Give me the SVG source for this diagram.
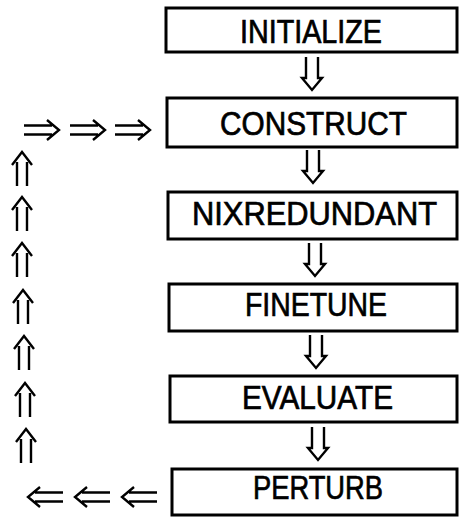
<svg xmlns="http://www.w3.org/2000/svg" width="459" height="518" viewBox="0 0 459 518">
<style>
.box{fill:#fff;stroke:#000;stroke-width:3}
.lbl{font-family:"Liberation Sans",Arial,sans-serif;font-size:33px;fill:#000;stroke:#000;stroke-width:0.7}
.arr{fill:none;stroke:#000;stroke-width:2.4;stroke-linejoin:miter;stroke-linecap:butt}
</style>
<defs>
<path id="dn" class="arr" d="M-6,0 V21 L-10,21 L0,33 L10,21 L6,21 V0"/>
<path id="up" class="arr" d="M-5,34 V10 M5,34 V10 M-10,13 L0,0 L10,13"/>
<path id="rt" class="arr" d="M0,-4.5 H28 M0,4.5 H28 M23,-10 L35,0 L23,10"/>
<path id="lt" class="arr" d="M0,-4.5 H-28 M0,4.5 H-28 M-23,-10 L-35,0 L-23,10"/>
</defs>
<rect width="459" height="518" fill="#fff"/>
<g id="connectors">
<use href="#dn" x="312" y="57"/>
<use href="#dn" x="313" y="150"/>
<use href="#dn" x="315" y="243"/>
<use href="#dn" x="316" y="335"/>
<use href="#dn" x="318" y="427"/>
<use href="#rt" x="24" y="130"/>
<use href="#rt" x="70" y="130"/>
<use href="#rt" x="115" y="130"/>
<use href="#up" x="22" y="152"/>
<use href="#up" x="22" y="197"/>
<use href="#up" x="22" y="243"/>
<use href="#up" x="23" y="290"/>
<use href="#up" x="24" y="336"/>
<use href="#up" x="25" y="383"/>
<use href="#up" x="26" y="429"/>
<use href="#lt" x="63" y="497"/>
<use href="#lt" x="110" y="497"/>
<use href="#lt" x="157" y="497"/>
</g>
<g id="initialize">
<rect class="box" x="166" y="8" width="291" height="44"/>
<text class="lbl" x="240" y="43" textLength="142" lengthAdjust="spacingAndGlyphs">INITIALIZE</text>
</g>
<g id="construct">
<rect class="box" x="167" y="98" width="290" height="49"/>
<text class="lbl" x="220" y="135" textLength="187" lengthAdjust="spacingAndGlyphs">CONSTRUCT</text>
</g>
<g id="nixredundant">
<rect class="box" x="168" y="192" width="289" height="47"/>
<text class="lbl" x="192" y="225" textLength="245" lengthAdjust="spacingAndGlyphs">NIXREDUNDANT</text>
</g>
<g id="finetune">
<rect class="box" x="169" y="284" width="288" height="47"/>
<text class="lbl" x="245" y="316" textLength="142" lengthAdjust="spacingAndGlyphs">FINETUNE</text>
</g>
<g id="evaluate">
<rect class="box" x="170" y="376" width="287" height="46"/>
<text class="lbl" x="242" y="409" textLength="151" lengthAdjust="spacingAndGlyphs">EVALUATE</text>
</g>
<g id="perturb">
<rect class="box" x="172" y="469" width="285" height="46"/>
<text class="lbl" x="253" y="499" textLength="130" lengthAdjust="spacingAndGlyphs">PERTURB</text>
</g>
</svg>
